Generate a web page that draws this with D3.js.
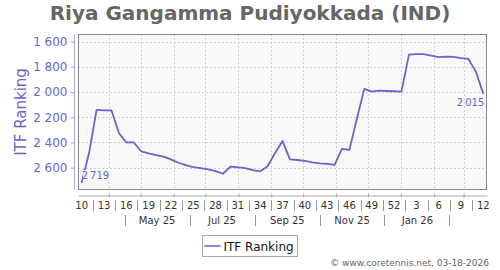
<!DOCTYPE html>
<html>
<head>
<meta charset="utf-8">
<script src="https://cdn.jsdelivr.net/npm/d3@7"></script>
<style>
  body { margin: 0; background: #fff; }
  svg { display: block; font-family: 'DejaVu Sans', sans-serif; }
</style>
</head>
<body>
<div id="chart"></div>
<script>
// weekly ITF ranking, from ISO week 10 of 2025 to week 12 of 2026
const firstWeek = '2025-03-03';
const lastWeek = '2026-03-16';
const ranking = [
  2719, 2480, 2142, 2145, 2145, 2325, 2400, 2400, 2470, 2486,
  2500, 2513, 2534, 2561, 2579, 2595, 2603, 2613, 2627, 2648,
  2592, 2597, 2603, 2619, 2629, 2589, 2483, 2389, 2534, 2539,
  2546, 2558, 2566, 2569, 2577, 2451, 2459, 2212, 1975, 1997,
  1989, 1992, 1994, 1997, 1703, 1700, 1700, 1711, 1724, 1719,
  1721, 1732, 1737, 1838, 2015
];
const weekTicks = ['10', '13', '16', '19', '22', '25', '28', '31', '34', '37',
  '40', '43', '46', '49', '52', '3', '6', '9', '12'];
const monthTicks = ['May 25', 'Jul 25', 'Sep 25', 'Nov 25', 'Jan 26'];
const monthTickDates = ['2025-05-01', '2025-07-01', '2025-09-01', '2025-11-01', '2026-01-01'];
const monthSeparators = ['2025-04-01', '2025-06-01', '2025-08-01', '2025-10-01', '2025-12-01', '2026-02-01'];
const yTicks = [1600, 1800, 2000, 2200, 2400, 2600];
const seriesName = 'ITF Ranking';
const title = 'Riya Gangamma Pudiyokkada (IND)';
const credit = '\u00a9 www.coretennis.net, 03-18-2026';

const width = 500, height = 270;
const plot = { left: 78, right: 487, top: 34, bottom: 190 };
const lineColor = '#6666cc';

const parse = d3.utcParse('%Y-%m-%d');
const mondays = d3.utcMonday.range(parse(firstWeek), d3.utcDay.offset(parse(lastWeek), 1));
const mid = (d) => new Date(+d + 3.5 * 864e5);
const data = mondays.map((d, i) => ({ date: mid(d), value: ranking[i] }));

const fmt = d3.formatLocale({ decimal: '.', thousands: ' ', grouping: [3], currency: ['', ''] }).format(',d');
const fmtSmall = d3.formatLocale({ decimal: '.', thousands: '\u2009', grouping: [3], currency: ['', ''] }).format(',d');

const svg = d3.select('#chart').append('svg')
  .attr('width', width)
  .attr('height', height);

svg.append('rect').attr('width', width).attr('height', height).attr('fill', '#fff');

let x = d3.scaleUtc()
  .domain([parse(firstWeek), d3.utcDay.offset(parse(lastWeek), 7)])
  .range([plot.left, plot.right]);
let y = d3.scaleLinear().domain([1540, 2777]).range([plot.top, plot.bottom]);

// title
svg.append('text')
  .attr('x', 250).attr('y', 19.5)
  .attr('text-anchor', 'middle')
  .attr('font-size', 20).attr('font-weight', 'bold')
  .attr('fill', '#666')
  .text(title);

// plot background + grid
svg.append('rect')
  .attr('x', plot.left).attr('y', plot.top)
  .attr('width', plot.right - plot.left).attr('height', plot.bottom - plot.top)
  .attr('fill', '#f8f8f8');

const monthStarts = d3.utcMonth.range(x.domain()[0], x.domain()[1]);
svg.append('g').selectAll('line').data(monthStarts).join('line')
  .attr('x1', (d) => Math.round(x(d)) + 0.5).attr('x2', (d) => Math.round(x(d)) + 0.5)
  .attr('y1', plot.top).attr('y2', plot.bottom)
  .attr('stroke', '#d0d0d0').attr('stroke-dasharray', '2,2');

svg.append('g').selectAll('line').data(yTicks).join('line')
  .attr('x1', plot.left).attr('x2', plot.right)
  .attr('y1', (d) => Math.round(y(d)) + 0.5).attr('y2', (d) => Math.round(y(d)) + 0.5)
  .attr('stroke', '#d0d0d0').attr('stroke-dasharray', '2,2');

// y axis
const yAxis = d3.axisLeft(y).tickValues(yTicks).tickFormat(fmt).tickSize(4).tickPadding(3);
const gy = svg.append('g').attr('transform', 'translate(74.5,0)').call(yAxis);
gy.select('.domain').attr('d', `M0,${plot.top}V${plot.bottom}`).attr('stroke', '#aaaadd');
gy.selectAll('.tick line').attr('stroke', '#aaaadd');
gy.selectAll('.tick text').attr('fill', lineColor).attr('font-size', 12).attr('font-family', 'DejaVu Sans');

svg.append('text')
  .attr('transform', `translate(26,${(plot.top + plot.bottom) / 2}) rotate(-90)`)
  .attr('text-anchor', 'middle')
  .attr('font-size', 15)
  .attr('fill', lineColor)
  .text(seriesName);

// x axis: month ticks on a line under the plot
const xAxis = d3.axisBottom(x).tickValues(monthStarts).tickFormat('').tickSize(2).tickSizeOuter(0);
const gx = svg.append('g').attr('transform', 'translate(0,195.5)').call(xAxis);
gx.select('.domain').attr('stroke', '#aaa');
gx.selectAll('.tick line').attr('stroke', '#aaa').attr('y1', -2);

// week band
const labelled = mondays.filter((d, i) => i % 3 === 0);
svg.append('g').selectAll('text').data(labelled).join('text')
  .attr('x', (d) => x(mid(d))).attr('y', 209)
  .attr('text-anchor', 'middle').attr('font-size', 10).attr('fill', '#333')
  .text((d, i) => weekTicks[i]);
svg.append('g').selectAll('line').data(labelled.slice(1)).join('line')
  .attr('x1', (d) => Math.round(x(d3.utcDay.offset(d, -7))) + 0.5)
  .attr('x2', (d) => Math.round(x(d3.utcDay.offset(d, -7))) + 0.5)
  .attr('y1', 200).attr('y2', 211)
  .attr('stroke', '#999');

// month band
const midMonth = (s) => {
  const d = parse(s);
  return new Date((+d + +d3.utcMonth.offset(d, 1)) / 2);
};
svg.append('g').selectAll('text').data(monthTickDates).join('text')
  .attr('x', (d) => x(midMonth(d))).attr('y', 224)
  .attr('text-anchor', 'middle').attr('font-size', 10).attr('fill', '#333')
  .text((d, i) => monthTicks[i]);
svg.append('g').selectAll('line').data(monthSeparators).join('line')
  .attr('x1', (d) => Math.round(x(midMonth(d))) + 0.5)
  .attr('x2', (d) => Math.round(x(midMonth(d))) + 0.5)
  .attr('y1', 215).attr('y2', 226)
  .attr('stroke', '#999');

// series
let line = d3.line()
  .x((d) => x(d.date))
  .y((d) => y(d.value));

svg.append('path')
  .datum(data)
  .attr('fill', 'none')
  .attr('stroke', lineColor)
  .attr('stroke-width', 1.8)
  .attr('stroke-linejoin', 'round')
  .attr('d', line);

// first / last value labels
const first = data[0], last = data[data.length - 1];
const firstLabel = svg.append('text')
  .attr('x', x(first.date)).attr('y', y(first.value) - 3.5)
  .attr('font-size', 10).attr('fill', lineColor)
  .text(fmtSmall(first.value));
const bb = firstLabel.node().getBBox();
svg.insert('rect', () => firstLabel.node())
  .attr('x', bb.x + 1.5).attr('y', bb.y).attr('width', bb.width).attr('height', bb.height)
  .attr('fill', '#f8f8f8');

svg.append('text')
  .attr('x', x(last.date) + 1).attr('y', y(last.value) + 12.5)
  .attr('text-anchor', 'end')
  .attr('font-size', 10).attr('fill', lineColor)
  .text(fmtSmall(last.value));

// plot border
svg.append('rect')
  .attr('x', plot.left + 0.5).attr('y', plot.top + 0.5)
  .attr('width', plot.right - plot.left - 1).attr('height', plot.bottom - plot.top - 1)
  .attr('fill', 'none').attr('stroke', '#888');

// legend
const legend = svg.append('g').attr('transform', 'translate(202.5,235.5)');
legend.append('rect').attr('width', 95).attr('height', 21).attr('fill', '#fff').attr('stroke', '#aaa');
legend.append('line').attr('x1', 2).attr('x2', 18).attr('y1', 10.5).attr('y2', 10.5)
  .attr('stroke', '#8888dd').attr('stroke-width', 2);
legend.append('text').attr('x', 21).attr('y', 15).attr('font-size', 12).attr('fill', '#111').text(seriesName);

// credit
svg.append('text')
  .attr('x', 489).attr('y', 266)
  .attr('text-anchor', 'end').attr('font-size', 9).attr('fill', '#666')
  .text(credit);
</script>
</body>
</html>
